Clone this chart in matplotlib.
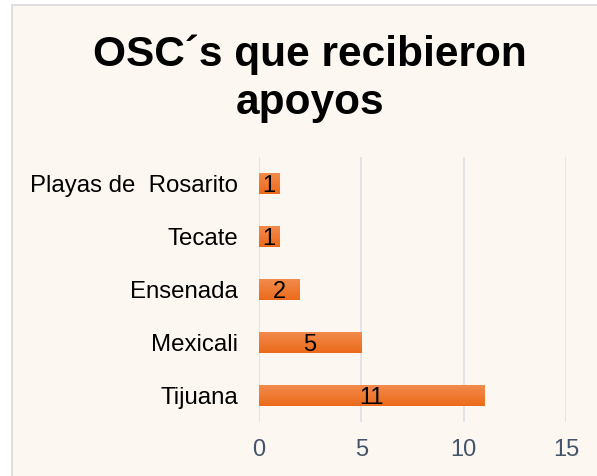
import numpy as np
import matplotlib
matplotlib.use("Agg")
import matplotlib.pyplot as plt
from matplotlib.patches import Rectangle

plt.rcParams['font.family'] = ['Liberation Sans', 'DejaVu Sans']

# data
municipios = ["Tijuana", "Mexicali", "Ensenada", "Tecate", "Playas de  Rosarito"]
osc = [11, 5, 2, 1, 1]
xticks = [0, 5, 10, 15]

bg = "#FDF7F2"
fig = plt.figure(figsize=(5.97, 4.76), dpi=100)
fig.patch.set_facecolor("white")
fig.patches.append(Rectangle((12 / 597, -0.1), 1.1, 1 - 5 / 476 + 0.1,
                             transform=fig.transFigure, facecolor=bg,
                             edgecolor="#D9D9D9", linewidth=1.2, zorder=-5))

ax = fig.add_axes([259 / 597, 1 - 422 / 476, (566 - 259) / 597, 265 / 476])
ax.set_facecolor("none")

y = np.arange(len(municipios))
h = 0.41
bars = ax.barh(y, osc, height=h, color="#EF7A30", zorder=2)

# vertical gradient on each bar (light top -> darker bottom)
grad = np.linspace(0, 1, 64).reshape(-1, 1)
cmap = matplotlib.colors.LinearSegmentedColormap.from_list("g", ["#F38C4F", "#EB6A1A"])
for b in bars:
    x0, y0 = b.get_x(), b.get_y()
    im = ax.imshow(grad, extent=(x0, x0 + b.get_width(), y0, y0 + b.get_height()),
                   aspect="auto", cmap=cmap, origin="upper", zorder=2.5)
    im.set_clip_path(b)

for yi, v in zip(y, osc):
    ax.text(v / 2, yi, str(v), ha="center", va="center_baseline", fontsize=17,
            color="black", zorder=3)

ax.set_xlim(0, 15)
ax.set_ylim(-0.5, len(municipios) - 0.5)
ax.set_xticks(xticks)
ax.set_yticks(y)
ax.set_yticklabels(municipios)
ax.tick_params(axis="y", length=0, labelsize=17.3, labelcolor="black", pad=15)
ax.tick_params(axis="x", length=0, labelsize=17, labelcolor="#44546A", pad=12)
ax.grid(axis="x", color="#DEE1E6", linewidth=1.3, zorder=1)
ax.set_axisbelow(True)
for s in ax.spines.values():
    s.set_visible(False)

fig.text(310 / 597, 1 - 55 / 476, "OSC´s que recibieron", ha="center", va="center",
         fontsize=30.5, fontweight="bold", color="black")
fig.text(310 / 597, 1 - 103 / 476, "apoyos", ha="center", va="center",
         fontsize=30.5, fontweight="bold", color="black")

fig.savefig("out.png", dpi=100, facecolor=fig.get_facecolor())
